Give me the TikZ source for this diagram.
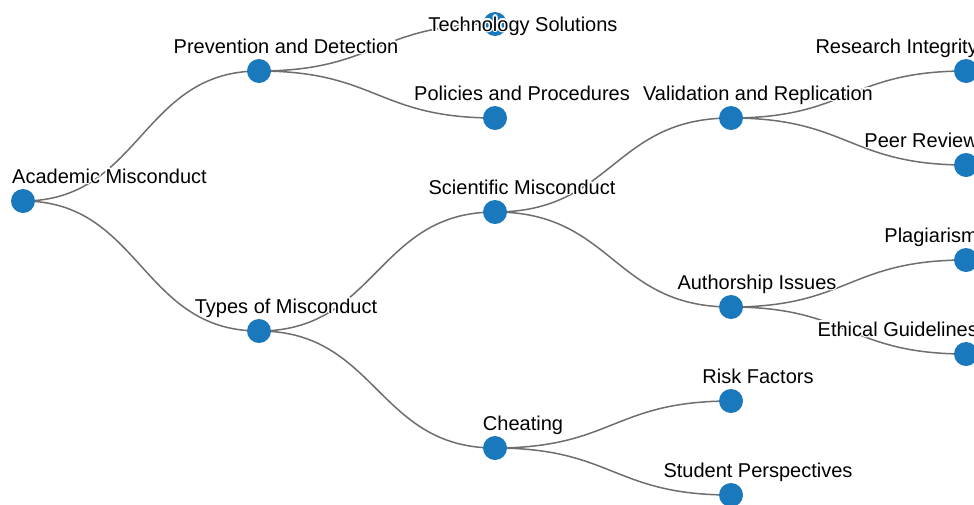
\documentclass[tikz,border=0pt]{standalone}
\usepackage{fontspec}
\setmainfont{Liberation Sans}
\usepackage{contour}
\contourlength{1.4pt}
\usetikzlibrary{calc,backgrounds}
\definecolor{cnode}{HTML}{1A79BD}
\definecolor{cedge}{HTML}{6E6E6E}
\tikzset{
  dot/.style={circle, fill=cnode, draw=none, minimum size=24pt, inner sep=0pt},
  lbl/.style={anchor=base, inner sep=0pt, font=\fontsize{20}{24}\selectfont},
  edge/.style={draw=cedge, line width=1.5pt}
}
% horizontal tree link: control points half way between the two nodes
\newcommand{\link}[2]{%
  \path (#1.center) -- coordinate[midway] (m#1#2) (#2.center);
  \draw[edge] (#1.center) .. controls (#1.center -| m#1#2) and (#2.center -| m#1#2) .. (#2.center);}
\newcommand{\txt}[1]{\contour{white}{#1}}

\begin{document}
\begin{tikzpicture}[x=1pt,y=-1pt]
\useasboundingbox (0,0) rectangle (974,504);
\clip (0,0) rectangle (974,504);

% depth 0
\node[dot] (acad) at (23,201) {};
% depth 1
\node[dot] (prev) at (259,71) {};
\node[dot] (types) at (259,331) {};
% depth 2
\node[dot] (tech) at (495,24) {};
\node[dot] (poli) at (495,118) {};
\node[dot] (sci) at (495,212) {};
\node[dot] (cheat) at (495,448) {};
% depth 3
\node[dot] (valid) at (731,118) {};
\node[dot] (auth) at (731,307) {};
\node[dot] (risk) at (731,401) {};
\node[dot] (stud) at (731,495) {};
% depth 4
\node[dot] (resint) at (966,71) {};
\node[dot] (peer) at (966,165) {};
\node[dot] (plag) at (966,260) {};
\node[dot] (ethic) at (966,354) {};

\begin{scope}[on background layer]
\link{acad}{prev}
\link{acad}{types}
\link{prev}{tech}
\link{prev}{poli}
\link{types}{sci}
\link{types}{cheat}
\link{sci}{valid}
\link{sci}{auth}
\link{cheat}{risk}
\link{cheat}{stud}
\link{valid}{resint}
\link{valid}{peer}
\link{auth}{plag}
\link{auth}{ethic}
\end{scope}

% labels
\node[lbl, anchor=base west] (tacad) at (12,183) {\txt{Academic Misconduct}};
\node[lbl] (tprev) at (286,53) {\txt{Prevention and Detection}};
\node[lbl] (ttypes) at (286,313) {\txt{Types of Misconduct}};
\node[lbl] (ttech) at (523,31) {\txt{Technology Solutions}};
\node[lbl] (tpoli) at (522,100) {\txt{Policies and Procedures}};
\node[lbl] (tsci) at (522,194) {\txt{Scientific Misconduct}};
\node[lbl] (tcheat) at (523,430) {\txt{Cheating}};
\node[lbl] (tvalid) at (758,100) {\txt{Validation and Replication}};
\node[lbl] (tauth) at (757,289) {\txt{Authorship Issues}};
\node[lbl] (trisk) at (758,383) {\txt{Risk Factors}};
\node[lbl] (tstud) at (758,477) {\txt{Student Perspectives}};
\node[lbl, anchor=base east] (tresint) at (978,53) {\txt{Research Integrity}};
\node[lbl, anchor=base east] (tpeer) at (978,147) {\txt{Peer Review}};
\node[lbl, anchor=base east] (tplag) at (978,242) {\txt{Plagiarism}};
\node[lbl, anchor=base east] (tethic) at (978,336) {\txt{Ethical Guidelines}};

\end{tikzpicture}
\end{document}
